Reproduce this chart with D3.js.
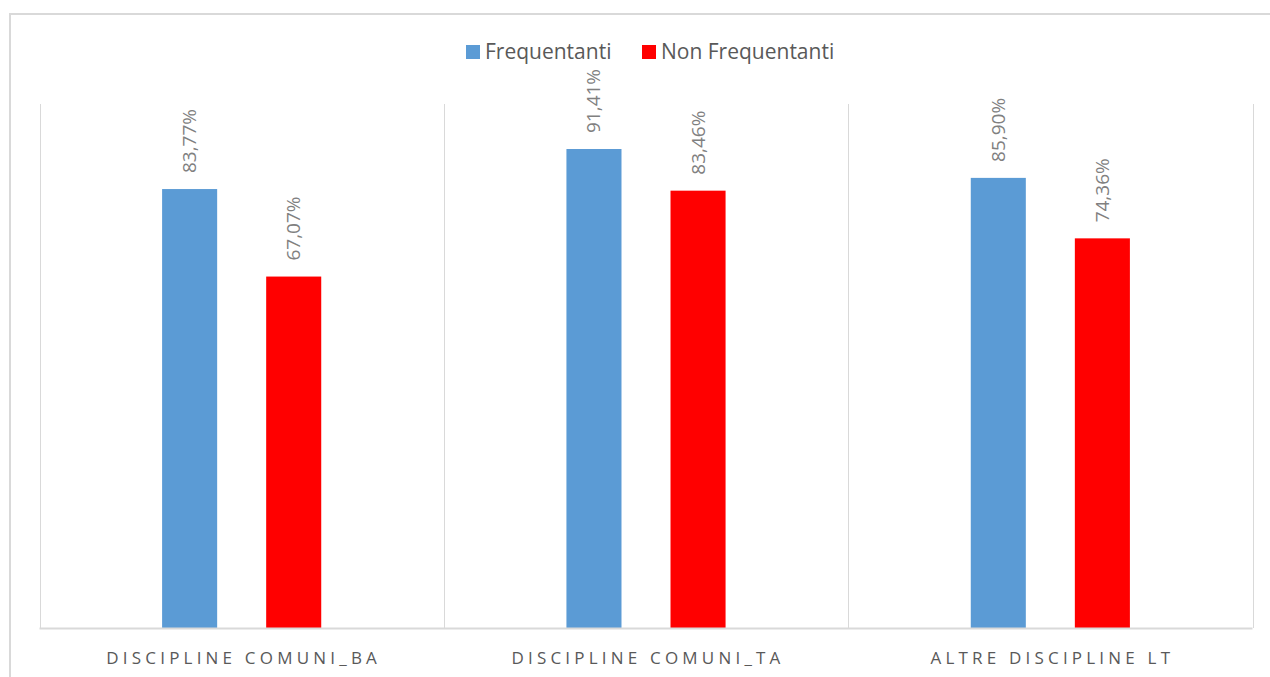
<!DOCTYPE html>
<html>
<head>
<meta charset="utf-8">
<script src="https://cdn.jsdelivr.net/npm/d3@7"></script>
<style>
html,body{margin:0;padding:0;background:#fff;}
svg{display:block;}
</style>
</head>
<body>
<svg id="chart" width="1270" height="677"></svg>
<script>
const categories = ["DISCIPLINE COMUNI_BA", "DISCIPLINE COMUNI_TA", "ALTRE DISCIPLINE LT"];
const seriesNames = ["Frequentanti", "Non Frequentanti"];
const frequentanti = [83.77, 91.41, 85.90];
const nonFrequentanti = [67.07, 83.46, 74.36];
const seriesColors = ["#5b9bd5", "#ff0000"];
const seriesValues = [frequentanti, nonFrequentanti];

const svg = d3.select("#chart");
const plot = {left: 39.5, right: 1252.5, top: 104, bottom: 628};

// outer frame
svg.append("rect").attr("x", 10).attr("y", 14).attr("width", 1300).attr("height", 700)
  .attr("fill", "none").attr("stroke", "#d9d9d9").attr("stroke-width", 2);

const x0 = d3.scaleBand().domain(categories).range([plot.left, plot.right]).padding(0);
const x1 = d3.scaleBand().domain(seriesNames).range([0, x0.bandwidth()])
  .paddingInner(0.471).paddingOuter(1.178);
const y = d3.scaleLinear().domain([0, 100]).range([plot.bottom, plot.top]);

// vertical separators
const seps = categories.map(c => x0(c)).concat([x0(categories[categories.length-1]) + x0.bandwidth()]);
svg.append("g").selectAll("line").data(seps).join("line")
  .attr("x1", d => Math.round(d) + 0.5).attr("x2", d => Math.round(d) + 0.5)
  .attr("y1", plot.top).attr("y2", plot.bottom)
  .attr("stroke", "#d9d9d9").attr("stroke-width", 1);

// bars
const data = [];
categories.forEach((c, i) => seriesNames.forEach((s, j) => data.push({c, s, v: seriesValues[j][i], col: seriesColors[j]})));

svg.append("g").selectAll("rect").data(data).join("rect")
  .attr("x", d => x0(d.c) + x1(d.s))
  .attr("width", x1.bandwidth())
  .attr("y", d => y(d.v))
  .attr("height", d => y(0) - y(d.v))
  .attr("fill", d => d.col);

// baseline
svg.append("line").attr("x1", plot.left).attr("x2", plot.right)
  .attr("y1", y(0) + 0.5).attr("y2", y(0) + 0.5)
  .attr("stroke", "#d9d9d9").attr("stroke-width", 2);

// value labels
const fmt = v => v.toFixed(2).replace(".", ",") + "%";
svg.append("g").selectAll("text").data(data).join("text")
  .attr("transform", d => `translate(${x0(d.c) + x1(d.s) + x1.bandwidth()/2 + 6.5},${y(d.v) - 16}) rotate(-90)`)
  .attr("text-anchor", "start")
  .attr("font-family", "Open Sans, sans-serif")
  .attr("font-size", 19)
  .attr("fill", "#808080")
  .text(d => fmt(d.v));

// category labels
svg.append("g").selectAll("text").data(categories).join("text")
  .attr("x", d => x0(d) + x0.bandwidth()/2 + 2)
  .attr("y", 664)
  .attr("text-anchor", "middle")
  .attr("font-family", "Open Sans, sans-serif")
  .attr("font-size", 17)
  .attr("letter-spacing", "4.2px")
  .attr("fill", "#595959")
  .text(d => d);

// legend
const legendItems = [
  {name: seriesNames[0], color: seriesColors[0], x: 466, tx: 485},
  {name: seriesNames[1], color: seriesColors[1], x: 642, tx: 661}
];
const lg = svg.append("g");
lg.selectAll("rect").data(legendItems).join("rect")
  .attr("x", d => d.x).attr("y", 45).attr("width", 14).attr("height", 14)
  .attr("fill", d => d.color);
lg.selectAll("text").data(legendItems).join("text")
  .attr("x", d => d.tx).attr("y", 59)
  .attr("font-family", "Open Sans, sans-serif")
  .attr("font-size", 21)
  .attr("fill", "#595959")
  .text(d => d.name);
</script>
</body>
</html>
